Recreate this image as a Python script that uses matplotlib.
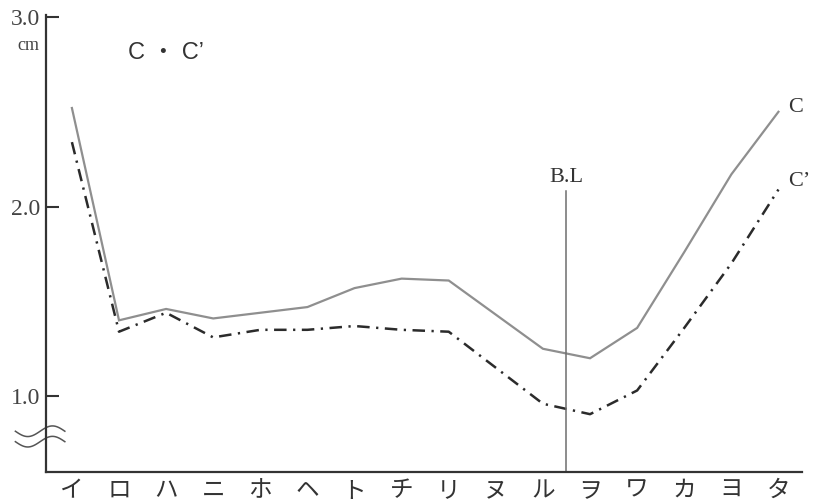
import numpy as np
import matplotlib
matplotlib.use("Agg")
import matplotlib.pyplot as plt

# Measurement points along the profile
points = ["イ", "ロ", "ハ", "ニ", "ホ", "ヘ", "ト", "チ", "リ", "ヌ", "ル", "ヲ", "ワ", "カ", "ヨ", "タ"]
c_values = [2.52, 1.40, 1.46, 1.41, 1.44, 1.47, 1.57, 1.62, 1.61, 1.43, 1.25, 1.20, 1.36, 1.76, 2.17, 2.50]
c_prime_values = [2.34, 1.34, 1.44, 1.31, 1.35, 1.35, 1.37, 1.35, 1.34, 1.15, 0.96, 0.905, 1.03, 1.36, 1.70, 2.09]
y_ticks = [1.0, 2.0, 3.0]
y_tick_labels = ["1.0", "2.0", "3.0"]
baseline_pos = 10.5      # B.L between ル and ヲ
baseline_top = 2.08

serif = ["Liberation Serif", "DejaVu Serif"]
jp = ["Noto Sans CJK JP", "DejaVu Sans"]

fig = plt.figure(figsize=(8.14, 5.03), dpi=100)
ax = fig.add_axes([46 / 814, 31 / 503, (802 - 46) / 814, (472 - 17) / 503])

x = np.arange(len(points))
ax.plot(x, c_values, color="#8f8f8f", lw=1.6, solid_joinstyle="miter")
line_cp, = ax.plot(x, c_prime_values, color="#2b2b2b", lw=1.8)
line_cp.set_dashes((5.0, 2.6, 0.9, 2.6))

# Base line
ax.plot([baseline_pos, baseline_pos], [0.6, baseline_top], color="#6e6e6e", lw=1.1)
ax.text(baseline_pos, baseline_top + 0.025, "B.L", ha="center", va="bottom",
        fontsize=16, family=serif, color="#333333")

# Series labels at the right end
ax.text(len(points) - 1 + 0.2, c_values[-1] + 0.02, "C", ha="left", va="center",
        fontsize=16, family=serif, color="#333333")
ax.text(len(points) - 1 + 0.2, c_prime_values[-1] + 0.04, "C’", ha="left", va="center",
        fontsize=16, family=serif, color="#333333")

ax.set_xlim(-0.55, 15.5)
ax.set_ylim(0.6, 3.0)

for s in ["top", "right"]:
    ax.spines[s].set_visible(False)
for s in ["left", "bottom"]:
    ax.spines[s].set_color("#333333")
    ax.spines[s].set_linewidth(1.6)
ax.spines["left"].set_bounds(0.6, 3.01)

ax.set_yticks(y_ticks)
ax.set_yticklabels(y_tick_labels, family=serif, fontsize=17, color="#444444")
ax.tick_params(axis="y", direction="in", length=9, width=1.5, color="#333333", pad=4)

ax.set_xticks(x)
ax.set_xticklabels(points, family=jp, fontsize=17, color="#333333")
ax.tick_params(axis="x", length=0, pad=5)

# Units under the top tick label
ax.text(-0.7, 2.85, "cm", ha="right", va="center", fontsize=13, family=serif,
        color="#444444", transform=ax.transData, clip_on=False)

# Chart title
ax.text(1.2, 2.81, "C ・ C’", ha="left", va="center", fontsize=17,
        family=["Liberation Sans", "Noto Sans CJK JP"], color="#333333")

# Axis break mark
tw = np.linspace(-1.2, -0.15, 60)
wave = 0.028 * np.sin((tw - tw[0]) / (tw[-1] - tw[0]) * 2 * np.pi)
for base in (0.815, 0.76):
    ax.plot(tw, base - wave, color="#555555", lw=1.1, clip_on=False)

fig.savefig("out.png", dpi=100, facecolor="white")
